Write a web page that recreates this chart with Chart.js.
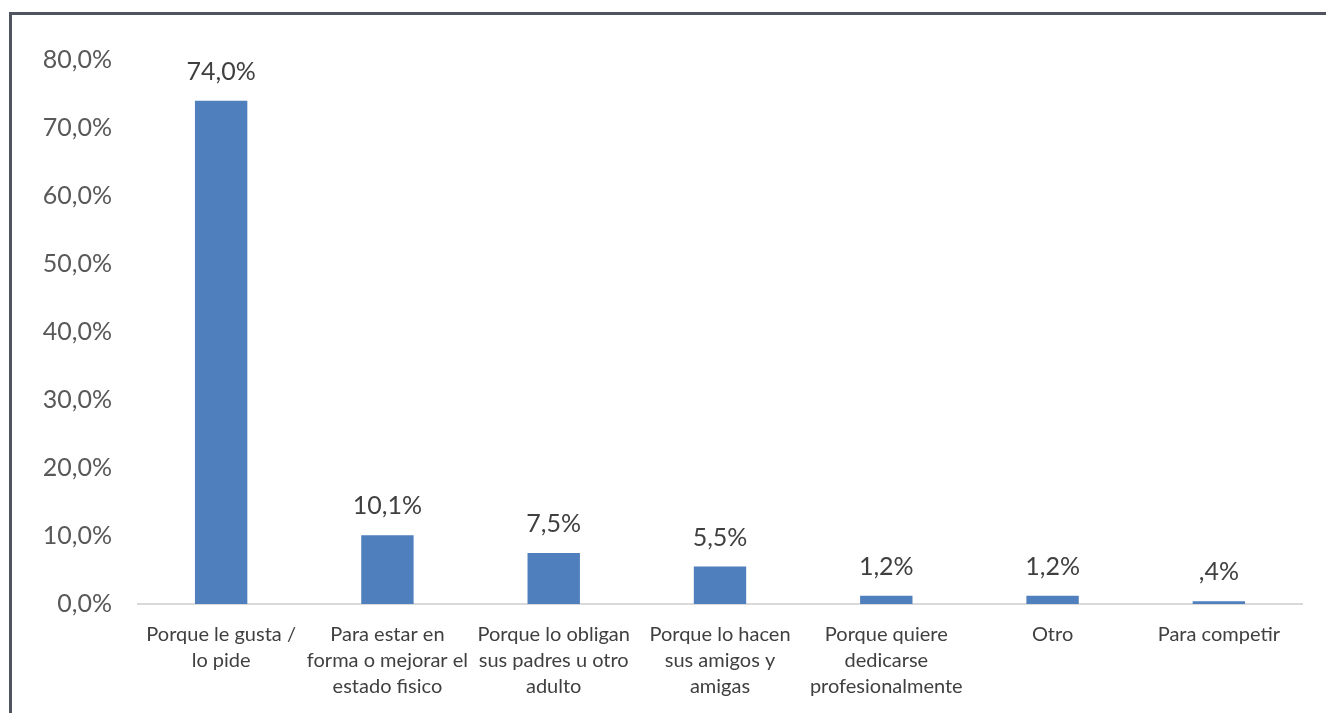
<!DOCTYPE html>
<html>
<head>
<meta charset="utf-8">
<script src="https://cdn.jsdelivr.net/npm/chart.js@4"></script>
<style>
  html, body { margin: 0; padding: 0; background: #fff; }
  #wrap { position: relative; width: 1326px; height: 713px; overflow: hidden; }
  #frame {
    position: absolute; left: 9px; top: 12px; width: 1340px; height: 760px;
    border: 3px solid #50545e; box-sizing: border-box;
  }
  canvas { position: absolute; left: 0; top: 0; }
</style>
</head>
<body>
<div id="wrap">
  <div id="frame"></div>
  <canvas id="chart" width="1326" height="713"></canvas>
</div>
<script>
const categories = [
  ['Porque le gusta /', 'lo pide'],
  ['Para estar en', 'forma o mejorar el', 'estado fisico'],
  ['Porque lo obligan', 'sus padres u otro', 'adulto'],
  ['Porque lo hacen', 'sus amigos y', 'amigas'],
  ['Porque quiere', 'dedicarse', 'profesionalmente'],
  ['Otro'],
  ['Para competir']
];
const percentages = [74.0, 10.1, 7.5, 5.5, 1.2, 1.2, 0.4];
const yTicks = [0, 10, 20, 30, 40, 50, 60, 70, 80];

const FONT = 'Lato, "Open Sans", sans-serif';

// 74.0 -> "74,0%", 0.4 -> ",4%"
function fmt(v) {
  let s = v.toFixed(1).replace('.', ',');
  if (s.startsWith('0,') && v !== 0) s = s.slice(1);
  return s + '%';
}

// value labels above each bar
const barLabels = {
  id: 'barLabels',
  afterDatasetsDraw(chart) {
    const ctx = chart.ctx;
    const meta = chart.getDatasetMeta(0);
    ctx.save();
    ctx.font = '25px ' + FONT;
    ctx.fillStyle = '#404040';
    ctx.textAlign = 'center';
    ctx.textBaseline = 'middle';
    meta.data.forEach((bar, i) => {
      ctx.fillText(fmt(chart.data.datasets[0].data[i]), bar.x, bar.y - 29);
    });
    ctx.restore();
  }
};

new Chart(document.getElementById('chart'), {
  type: 'bar',
  data: {
    labels: categories,
    datasets: [{
      data: percentages,
      backgroundColor: '#4f7fbc',
      categoryPercentage: 1,
      barPercentage: 0.315
    }]
  },
  options: {
    responsive: false,
    animation: false,
    layout: { padding: { left: 0, right: 24, top: 60, bottom: 0 } },
    plugins: { legend: { display: false }, tooltip: { enabled: false } },
    scales: {
      x: {
        grid: { display: false },
        border: { display: true, color: '#d9d9d9', width: 2 },
        ticks: {
          color: '#404040',
          font: { family: FONT, size: 20, lineHeight: 1.3 },
          padding: 10,
          maxRotation: 0,
          autoSkip: false
        },
        afterFit(s) { s.height = 109; }
      },
      y: {
        min: 0,
        max: 80,
        afterBuildTicks(s) { s.ticks = yTicks.map(v => ({ value: v })); },
        grid: { display: false, drawTicks: false },
        border: { display: false },
        ticks: {
          color: '#595959',
          font: { family: FONT, size: 25 },
          padding: 26,
          callback: v => v.toFixed(1).replace('.', ',') + '%'
        },
        afterFit(s) { s.width = 138; }
      }
    }
  },
  plugins: [barLabels]
});
</script>
</body>
</html>
